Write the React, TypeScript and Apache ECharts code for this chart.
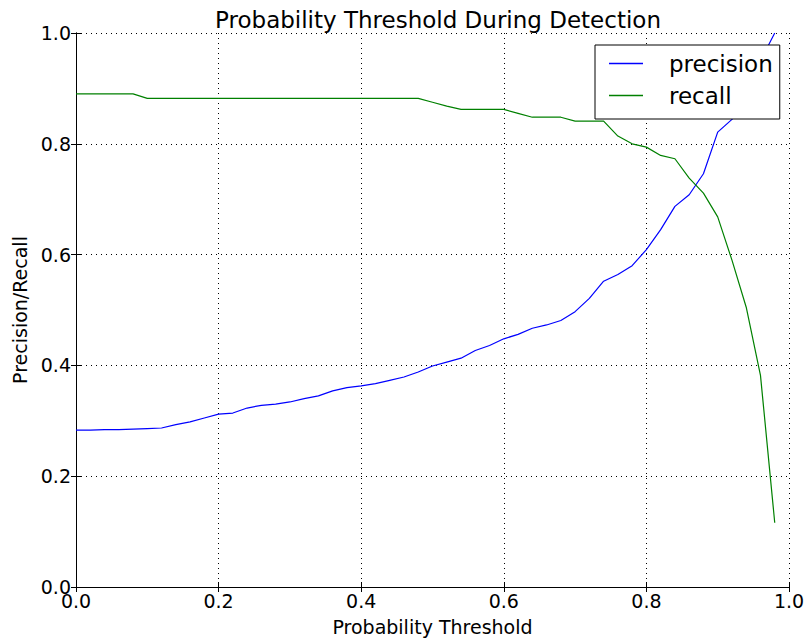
import React, { useEffect, useRef } from "react";
import * as echarts from "echarts";

const thresholds = [
  0.0, 0.02, 0.04, 0.06, 0.08, 0.1, 0.12, 0.14, 0.16, 0.18,
  0.2, 0.22, 0.24, 0.26, 0.28, 0.3, 0.32, 0.34, 0.36, 0.38,
  0.4, 0.42, 0.44, 0.46, 0.48, 0.5, 0.52, 0.54, 0.56, 0.58,
  0.6, 0.62, 0.64, 0.66, 0.68, 0.7, 0.72, 0.74, 0.76, 0.78,
  0.8, 0.82, 0.84, 0.86, 0.88, 0.9, 0.92, 0.94, 0.96, 0.98,
];

const precision = [
  0.283, 0.283, 0.284, 0.284, 0.285, 0.286, 0.287, 0.293, 0.298, 0.305,
  0.312, 0.314, 0.323, 0.328, 0.33, 0.334, 0.34, 0.345, 0.354, 0.36,
  0.363, 0.367, 0.373, 0.379, 0.388, 0.399, 0.406, 0.413, 0.427, 0.436,
  0.448, 0.456, 0.467, 0.473, 0.481, 0.497, 0.521, 0.552, 0.564, 0.58,
  0.609, 0.645, 0.687, 0.708, 0.746, 0.821, 0.844, 0.875, 0.95, 1.0,
];

const recall = [
  0.89, 0.89, 0.89, 0.89, 0.89, 0.882, 0.882, 0.882, 0.882, 0.882,
  0.882, 0.882, 0.882, 0.882, 0.882, 0.882, 0.882, 0.882, 0.882, 0.882,
  0.882, 0.882, 0.882, 0.882, 0.882, 0.875, 0.868, 0.862, 0.862, 0.862,
  0.862, 0.855, 0.848, 0.848, 0.848, 0.841, 0.841, 0.841, 0.814, 0.8,
  0.794, 0.779, 0.773, 0.738, 0.711, 0.668, 0.59, 0.505, 0.382, 0.116,
];

const tickLabelsX = ["0.0", "0.2", "0.4", "0.6", "0.8", "1.0"];
const tickLabelsY = ["0.0", "0.2", "0.4", "0.6", "0.8", "1.0"];

const FONT = "DejaVu Sans";

export default function App() {
  const ref = useRef<HTMLDivElement>(null);
  useEffect(() => {
    if (!ref.current) return;
    const chart = echarts.init(ref.current, null, { renderer: "svg" });
    const baseAxis = {
      type: "value" as const,
      min: 0,
      max: 1,
      interval: 0.2,
      axisLine: { show: true, lineStyle: { color: "#000", width: 1 } },
      axisTick: { show: true, inside: true, length: 5, lineStyle: { color: "#000" } },
    };
    chart.setOption({
      animation: false,
      backgroundColor: "#fff",
      title: {
        text: "Probability Threshold During Detection",
        left: 433,
        top: 3,
        textAlign: "center",
        textStyle: { fontFamily: FONT, fontSize: 23, fontWeight: "normal", color: "#000" },
      },
      grid: {
        left: 76,
        top: 33,
        width: 713,
        height: 554,
        containLabel: false,
        outerBoundsMode: "none",
      },
      legend: {
        orient: "vertical",
        left: 595,
        top: 45,
        padding: [7, 7, 12, 14],
        backgroundColor: "#fff",
        borderColor: "#000",
        borderWidth: 1,
        borderRadius: 0,
        itemWidth: 34,
        itemHeight: 1.5,
        itemGap: 9,
        textStyle: { fontFamily: FONT, fontSize: 23, color: "#000", padding: [0, 0, 0, 21] },
        data: [
          { name: "precision", icon: "rect", itemStyle: { color: "#0000ff" } },
          { name: "recall", icon: "rect", itemStyle: { color: "#008000" } },
        ],
      },
      xAxis: [
        {
          ...baseAxis,
          position: "bottom",
          name: "Probability Threshold",
          nameLocation: "middle",
          nameGap: 30,
          nameTextStyle: { fontFamily: FONT, fontSize: 19, color: "#000" },
          axisLabel: {
            fontFamily: FONT,
            fontSize: 19,
            lineHeight: 14,
            color: "#000",
            margin: 7,
            formatter: (v: number) => tickLabelsX[Math.round(v / 0.2)] ?? "",
          },
          splitLine: { show: true, lineStyle: { color: "#000", type: [1, 4], width: 1 } },
        },
        {
          ...baseAxis,
          position: "top",
          axisLabel: { show: false },
          splitLine: { show: false },
        },
      ],
      yAxis: [
        {
          ...baseAxis,
          position: "left",
          name: "Precision/Recall",
          nameLocation: "middle",
          nameGap: 41,
          nameTextStyle: { fontFamily: FONT, fontSize: 19, color: "#000" },
          axisLabel: {
            fontFamily: FONT,
            fontSize: 19,
            lineHeight: 14,
            color: "#000",
            margin: 5,
            formatter: (v: number) => tickLabelsY[Math.round(v / 0.2)] ?? "",
          },
          splitLine: { show: true, lineStyle: { color: "#000", type: [1, 4], width: 1 } },
        },
        {
          ...baseAxis,
          position: "right",
          axisLabel: { show: false },
          splitLine: { show: false },
        },
      ],
      series: [
        {
          name: "precision",
          type: "line",
          symbol: "none",
          xAxisIndex: 0,
          yAxisIndex: 0,
          clip: true,
          lineStyle: { color: "#0000ff", width: 1.2 },
          itemStyle: { color: "#0000ff" },
          data: thresholds.map((t, i) => [t, precision[i]]),
        },
        {
          name: "recall",
          type: "line",
          symbol: "none",
          xAxisIndex: 0,
          yAxisIndex: 0,
          clip: true,
          lineStyle: { color: "#008000", width: 1.2 },
          itemStyle: { color: "#008000" },
          data: thresholds.map((t, i) => [t, recall[i]]),
        },
      ],
    });
    return () => chart.dispose();
  }, []);
  return (
    <div
      ref={ref}
      style={{ position: "fixed", left: 0, top: 0, width: 809, height: 639, background: "#fff" }}
    />
  );
}
